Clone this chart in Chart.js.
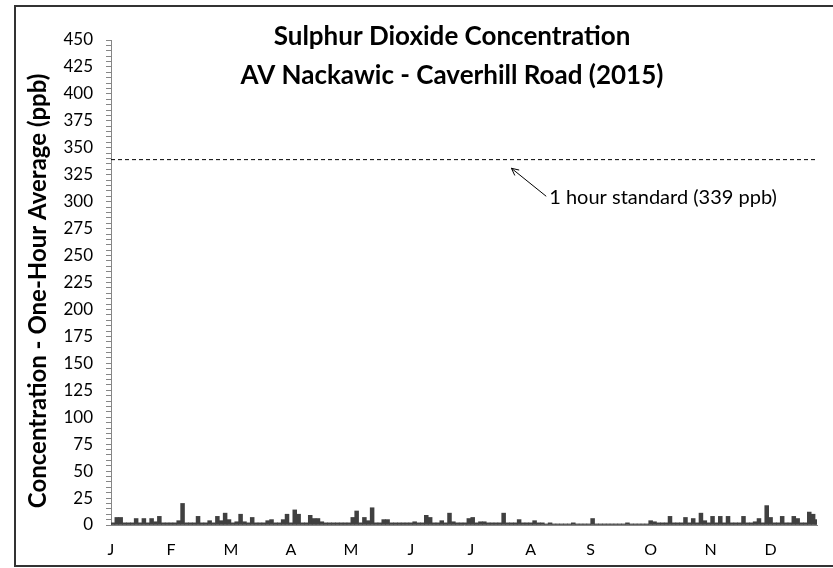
<!DOCTYPE html>
<html lang="en">
<head>
    <meta charset="UTF-8">
    <title>Sulphur Dioxide Concentration - AV Nackawic</title>
    <script src="https://cdn.jsdelivr.net/npm/chart.js"></script>
    <style>
        html, body { margin: 0; padding: 0; background: #fff; }
        #wrap { width: 833px; height: 568px; position: relative; }
    </style>
</head>
<body>
    <div id="wrap"><canvas id="so2Chart" width="833" height="568"></canvas></div>

    <script>
        // values: max one-hour SO2 (ppb) per 2-day block, 2015
        const binDays = 2;
        const so2Max = [
            2, 7, 7, 2, 2, 2, 6, 2, 6, 2,
            6, 3, 8, 2, 2, 2, 2, 4, 20, 2,
            2, 2, 8, 2, 2, 4, 2, 8, 4, 11,
            5, 2, 3, 10, 3, 2, 7, 2, 2, 2,
            4, 5, 2, 2, 5, 10, 2, 14, 10, 2,
            2, 9, 6, 6, 3, 2, 2, 2, 2, 2,
            2, 2, 7, 13, 2, 7, 4, 16, 2, 2,
            5, 5, 2, 2, 2, 2, 2, 2, 3, 2,
            2, 9, 7, 2, 2, 4, 2, 11, 3, 2,
            2, 2, 6, 7, 2, 3, 3, 2, 2, 2,
            2, 11, 2, 2, 2, 5, 2, 2, 2, 4,
            2, 2, 1, 2, 1, 1, 1, 1, 1, 2,
            1, 1, 1, 1, 6, 1, 1, 1, 1, 1,
            1, 1, 1, 2, 1, 1, 1, 1, 1, 4,
            3, 2, 2, 2, 8, 2, 2, 2, 7, 2,
            6, 2, 11, 4, 2, 8, 2, 8, 2, 8,
            2, 2, 2, 8, 2, 2, 3, 6, 2, 18,
            7, 2, 2, 8, 2, 2, 8, 6, 2, 2,
            12, 10, 5
        ];

        const monthLabels = ['J', 'F', 'M', 'A', 'M', 'J', 'J', 'A', 'S', 'O', 'N', 'D'];
        const monthLabelStep = 31;   // days between month labels
        const yearDays = 365;

        const standardValue = 339;
        const standardText = '1 hour standard (339 ppb)';
        const arrowHead = { day: 207, value: 331 };
        const arrowTail = { day: 225, value: 305 };

        const titleLines = ['Sulphur Dioxide Concentration', 'AV Nackawic - Caverhill Road (2015)'];
        const yTitle = 'Concentration - One-Hour Average (ppb)';

        const so2Points = so2Max.map((v, i) => ({ x: i * binDays + binDays / 2, y: v }));
        const standardPoints = [{ x: 0, y: standardValue }, { x: yearDays, y: standardValue }];

        // title, axis title, frame and arrow note are drawn on top of the chart
        const extras = {
            id: 'extras',
            afterDraw(chart) {
                const c = chart.ctx;
                const xs = chart.scales.x, ys = chart.scales.y;
                c.save();

                // outer frame (left, top, bottom)
                c.strokeStyle = '#333';
                c.lineWidth = 2;
                c.beginPath();
                c.moveTo(833, 6);
                c.lineTo(15, 6);
                c.lineTo(15, 566);
                c.lineTo(833, 566);
                c.stroke();

                // title
                c.fillStyle = '#000';
                c.font = 'bold 26px Lato';
                c.textAlign = 'center';
                c.textBaseline = 'middle';
                c.fillText(titleLines[0], 452, 37);
                c.fillText(titleLines[1], 452, 76);

                // y axis title, a little below the middle of the axis as in the original
                c.save();
                c.translate(38, 291);
                c.rotate(-Math.PI / 2);
                c.font = 'bold 24px Lato';
                c.fillText(yTitle, 0, 0);
                c.restore();

                // arrow to the standard line
                const hx = xs.getPixelForValue(arrowHead.day), hy = ys.getPixelForValue(arrowHead.value);
                const tx = xs.getPixelForValue(arrowTail.day), ty = ys.getPixelForValue(arrowTail.value);
                c.strokeStyle = '#000';
                c.lineWidth = 1;
                c.beginPath();
                c.moveTo(tx, ty);
                c.lineTo(hx, hy);
                const ang = Math.atan2(hy - ty, hx - tx);
                c.moveTo(hx, hy);
                c.lineTo(hx - 8 * Math.cos(ang - 0.45), hy - 8 * Math.sin(ang - 0.45));
                c.moveTo(hx, hy);
                c.lineTo(hx - 8 * Math.cos(ang + 0.45), hy - 8 * Math.sin(ang + 0.45));
                c.stroke();

                c.font = '20px Lato';
                c.textAlign = 'left';
                c.fillText(standardText, tx + 3, ty + 1);
                c.restore();
            }
        };

        const ctx = document.getElementById('so2Chart').getContext('2d');
        new Chart(ctx, {
            type: 'bar',
            data: {
                datasets: [
                    {
                        type: 'line',
                        data: standardPoints,
                        borderColor: '#000',
                        borderWidth: 1,
                        borderDash: [4, 3],
                        pointRadius: 0,
                        fill: false
                    },
                    {
                        data: so2Points,
                        backgroundColor: '#404040',
                        borderWidth: 0,
                        barPercentage: 1,
                        categoryPercentage: 1
                    }
                ]
            },
            options: {
                responsive: false,
                animation: false,
                layout: { padding: { left: 16, right: 16, top: 40, bottom: 0 } },
                plugins: {
                    legend: { display: false },
                    tooltip: { enabled: false }
                },
                scales: {
                    x: {
                        type: 'linear',
                        min: 0,
                        max: yearDays,
                        offset: false,
                        grid: { display: false },
                        border: { color: '#868686' },
                        afterBuildTicks: (scale) => {
                            scale.ticks = monthLabels.map((m, i) => ({ value: i * monthLabelStep }));
                        },
                        afterFit: (scale) => { scale.height = 43; },
                        ticks: {
                            autoSkip: false,
                            maxRotation: 0,
                            padding: 7,
                            color: '#000',
                            font: { family: 'Lato', size: 16 },
                            callback: (v, i) => monthLabels[i]
                        }
                    },
                    y: {
                        min: 0,
                        max: 450,
                        afterFit: (scale) => { scale.width = 95; },
                        border: { color: '#868686' },
                        grid: {
                            drawOnChartArea: false,
                            tickLength: 5,
                            tickColor: '#868686'
                        },
                        ticks: {
                            stepSize: 5,
                            autoSkip: false,
                            padding: 13,
                            color: '#000',
                            font: { family: 'Lato', size: 17 },
                            callback: (v) => (v % 25 === 0 ? v : '')
                        }
                    }
                }
            },
            plugins: [extras]
        });
    </script>
</body>
</html>
